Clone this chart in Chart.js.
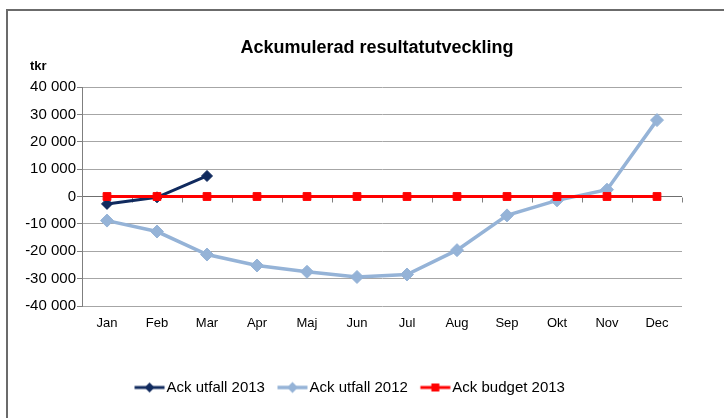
<!DOCTYPE html>
<html>
<head>
<meta charset="utf-8">
<script src="https://cdn.jsdelivr.net/npm/chart.js@4/dist/chart.umd.min.js"></script>
<style>
  html, body { margin: 0; padding: 0; background: #fff; overflow: hidden; }
  #wrap { position: relative; width: 724px; height: 418px; }
  #frame { position: absolute; left: 6px; top: 9px; right: -10px; bottom: -10px;
           border-top: 2px solid #6b6b6b; border-left: 2px solid #6b6b6b; pointer-events: none; }
</style>
</head>
<body>
<div id="wrap">
  <canvas id="chart"></canvas>
  <div id="frame"></div>
</div>
<script>
const months = ['Jan', 'Feb', 'Mar', 'Apr', 'Maj', 'Jun', 'Jul', 'Aug', 'Sep', 'Okt', 'Nov', 'Dec'];
const utfall2013 = [-2700, -300, 7500];
const utfall2012 = [-8800, -12800, -21200, -25200, -27500, -29400, -28500, -19600, -6900, -1400, 2500, 27900];
const budget2013 = [0, 0, 0, 0, 0, 0, 0, 0, 0, 0, 0, 0];
const yTicks = [-40000, -30000, -20000, -10000, 0, 10000, 20000, 30000, 40000];

const FONT = "'Liberation Sans', Arial, sans-serif";
const navy = '#102a5e';
const light = '#95b3d7';
const red = '#ff0000';

const fmt = v => (v < 0 ? '-' : '') + Math.abs(v).toString().replace(/\B(?=(\d{3})+(?!\d))/g, ' ');

// legend symbol: short line with marker in the middle
// (image is wider than the legend box so the line sits close to the text)
function legendSymbol(color, shape, r, lw) {
    const c = document.createElement('canvas');
    c.width = 40; c.height = 16;
    const g = c.getContext('2d');
    g.strokeStyle = color; g.lineWidth = lw;
    g.beginPath(); g.moveTo(7.5, 8); g.lineTo(37.5, 8); g.stroke();
    g.fillStyle = color;
    g.beginPath();
    if (shape === 'diamond') {
        g.moveTo(22.5, 8 - r); g.lineTo(22.5 + r, 8); g.lineTo(22.5, 8 + r); g.lineTo(22.5 - r, 8);
    } else {
        g.rect(22.5 - r, 8 - r, 2 * r, 2 * r);
    }
    g.fill();
    return c;
}

const symbols = [
    legendSymbol(navy, 'diamond', 5, 3),
    legendSymbol(light, 'diamond', 5.5, 3.5),
    legendSymbol(red, 'square', 4, 3)
];

// title + unit label
const textPlugin = {
    id: 'texts',
    afterDraw(chart) {
        const c = chart.ctx;
        c.save();
        c.fillStyle = '#000';
        c.textBaseline = 'alphabetic';
        c.font = 'bold 18px ' + FONT;
        c.textAlign = 'center';
        c.fillText('Ackumulerad resultatutveckling', 377, 53);
        c.font = 'bold 13px ' + FONT;
        c.textAlign = 'left';
        c.fillText('tkr', 30, 70);
        c.restore();
    }
};

// category tick marks on the zero line
const zeroTicks = {
    id: 'zeroTicks',
    beforeDatasetsDraw(chart) {
        const x = chart.scales.x, y = chart.scales.y, c = chart.ctx;
        const y0 = Math.round(y.getPixelForValue(0)) + 0.5;
        c.save();
        c.strokeStyle = '#7f7f7f';
        c.lineWidth = 1;
        c.beginPath();
        for (let i = 0; i <= months.length; i++) {
            let px;
            if (i === 0) px = chart.chartArea.left;
            else if (i === months.length) px = chart.chartArea.right;
            else px = (x.getPixelForValue(i - 1) + x.getPixelForValue(i)) / 2;
            px = Math.round(px) + 0.5;
            c.moveTo(px, y0);
            c.lineTo(px, y0 + 5);
        }
        c.stroke();
        c.restore();
    }
};

const ctx = document.getElementById('chart').getContext('2d');
new Chart(ctx, {
    type: 'line',
    data: {
        labels: months,
        datasets: [
            {
                label: 'Ack utfall 2013', data: utfall2013, order: 2,
                borderColor: navy, backgroundColor: navy, borderWidth: 3,
                pointStyle: 'rectRot', pointRadius: 5.5, pointBorderWidth: 1,
                pointBackgroundColor: navy, pointBorderColor: navy
            },
            {
                label: 'Ack utfall 2012', data: utfall2012, order: 1,
                borderColor: light, backgroundColor: light, borderWidth: 3.5,
                pointStyle: 'rectRot', pointRadius: 6.5, pointBorderWidth: 1,
                pointBackgroundColor: light, pointBorderColor: light
            },
            {
                label: 'Ack budget 2013', data: budget2013, order: 0,
                borderColor: red, backgroundColor: red, borderWidth: 3,
                pointStyle: 'rect', pointRadius: 5.5, pointBorderWidth: 1,
                pointBackgroundColor: red, pointBorderColor: red
            }
        ]
    },
    options: {
        responsive: true,
        maintainAspectRatio: false,
        animation: false,
        layout: { padding: { left: 18, right: 42, top: 87, bottom: 13 } },
        plugins: {
            title: { display: false },
            tooltip: { enabled: false },
            legend: {
                position: 'bottom',
                labels: {
                    usePointStyle: true,
                    pointStyleWidth: 24,
                    padding: 13,
                    color: '#000',
                    font: { family: FONT, size: 15 },
                    generateLabels: chart => chart.data.datasets.map((ds, i) => ({
                        text: ds.label,
                        pointStyle: symbols[i],
                        fillStyle: 'transparent',
                        strokeStyle: 'transparent',
                        lineWidth: 0,
                        fontColor: '#000',
                        hidden: false,
                        datasetIndex: i
                    }))
                }
            }
        },
        scales: {
            x: {
                offset: true,
                grid: { display: false, drawTicks: false, offset: true },
                border: { display: false },
                ticks: { color: '#000', padding: 10, font: { family: FONT, size: 13 }, maxRotation: 0 },
                afterFit: s => { s.height = 61; }
            },
            y: {
                min: -40000, max: 40000,
                afterBuildTicks: s => { s.ticks = yTicks.map(v => ({ value: v })); },
                grid: {
                    color: c => (c.tick && c.tick.value === 0) ? '#6f6f6f' : '#a6a6a6',
                    tickColor: '#7f7f7f',
                    tickLength: 5
                },
                border: { display: true, color: '#7f7f7f', width: 1 },
                ticks: { color: '#000', padding: 1, font: { family: FONT, size: 15 }, callback: v => fmt(v) },
                afterFit: s => { s.width = 64; }
            }
        }
    },
    plugins: [textPlugin, zeroTicks]
});
</script>
</body>
</html>
